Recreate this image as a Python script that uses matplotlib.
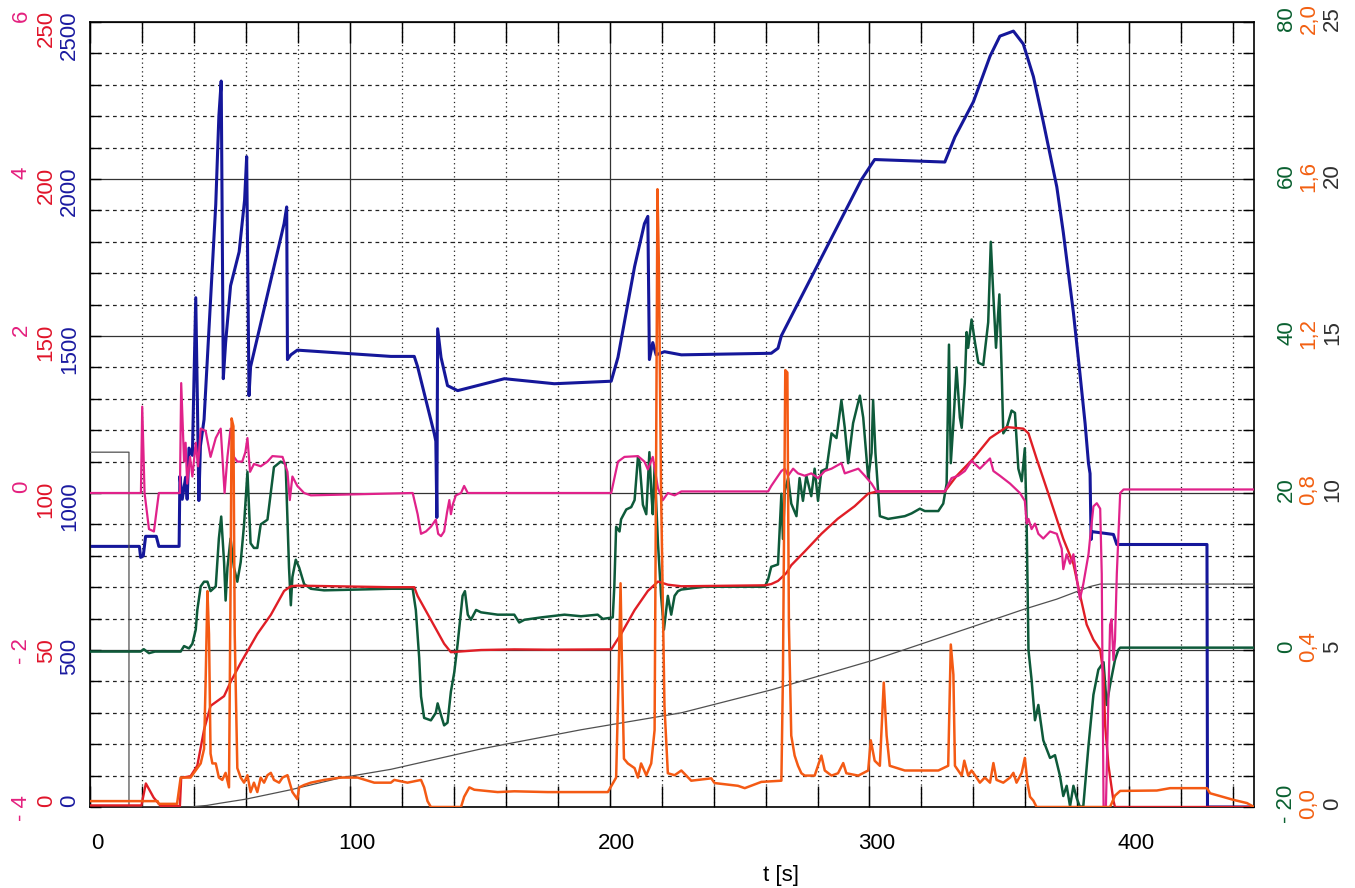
import matplotlib.pyplot as plt
import matplotlib.transforms as mtransforms
from matplotlib.ticker import MultipleLocator

plt.rcParams['font.family'] = ['Liberation Sans', 'DejaVu Sans']

# ---- data (t in s) ----
blue_t = [0, 19.0, 19.5, 20.5, 21.4, 25.5, 26.5, 34.3, 34.6, 35.5, 36.8, 37.4, 38.1, 39.4, 40.7, 41.3,
          41.9, 42.5, 43.9, 46.4, 48.4, 49.6, 50.5, 51.3, 52.2, 54.1, 57.4, 59.5, 60.3, 61.2, 61.8,
          74.7, 75.7, 76.0, 77.3, 79.8, 115.8, 124.8, 126.1, 132.5, 133.1, 133.5, 133.8, 135.1, 137.6,
          141.5, 159.5, 178.7, 200.6, 203.2, 209.6, 213.4, 214.7, 215.3, 216.6, 217.9, 221.1, 227.6,
          262.2, 264.8, 266.1, 296.9, 302.0, 329.0, 332.9, 340.0, 346.4, 350.2, 355.4, 359.2, 363.1,
          366.9, 372.1, 374.6, 378.5, 381.0, 383.0, 384.3, 384.9, 385.3, 385.6, 393.9, 395.2, 429.9,
          430.1, 448]
blue_v = [830, 830, 795, 800, 862, 862, 830, 830, 1053, 980, 1050, 980, 1143, 1120, 1622, 1310,
          976, 1150, 1234, 1615, 1919, 2200, 2312, 1364, 1479, 1660, 1768, 1933, 2071, 1310, 1402,
          1858, 1911, 1425, 1440, 1455, 1435, 1435, 1402, 1189, 1165, 922, 1523, 1432, 1342,
          1326, 1364, 1348, 1356, 1432, 1721, 1858, 1881, 1425, 1479, 1440, 1450, 1440,
          1445, 1461, 1501, 1998, 2062, 2054, 2134, 2246, 2391, 2455, 2471, 2430, 2326,
          2182, 1975, 1830, 1574, 1381, 1221, 1094, 1062, 852, 877, 868, 836, 836,
          0, 0]

mag_t = [0, 19.6, 20.1, 21.0, 22.7, 24.6, 26.5, 34.6, 35.1, 36.2, 36.8, 37.4, 38.5, 39.4, 40.7, 41.6,
         42.6, 44.5, 46.4, 48.4, 50.3, 51.8, 52.9, 54.1, 55.4, 56.7, 58.6, 59.8, 60.6, 61.6, 63.1,
         65.7, 68.3, 70.2, 74.1, 76.0, 76.9, 77.9, 79.8, 82.4, 85.0, 124.2, 126.1, 127.4, 129.3,
         131.2, 133.1, 134.0, 135.1, 136.3, 137.4, 138.3, 138.9, 139.6, 140.8, 142.8, 144.0, 145.4,
         200.6, 203.2, 205.7, 210.9, 213.4, 214.7, 216.6, 218.6, 220.5, 222.4, 225.0, 227.6, 261.0,
         262.2, 266.1, 267.4, 268.7, 270.6, 272.5, 275.1, 277.6, 280.2, 282.8, 285.4, 289.2, 290.5,
         293.1, 295.7, 298.2, 300.8, 302.7, 329.0, 331.6, 334.2, 336.7, 339.3, 342.5, 346.4, 347.7,
         350.2, 354.1, 357.9, 359.8, 360.5, 361.2, 362.4, 363.7, 365.0, 366.9, 369.5, 372.1, 374.0,
         374.6, 375.9, 377.2, 378.5, 379.8, 381.0, 382.3, 384.3, 384.9, 386.2, 387.5, 388.8, 389.4,
         390.1, 391.0, 392.6, 393.2, 393.9, 394.5, 395.2, 396.5, 397.8, 448]
mag_v = [0, 0, 1.10, 0.0, -0.46, -0.49, 0.0, 0.0, 1.40, 0.40, 0.64, 0.12, 0.46, 0.21, 0.64, 0.34,
         0.82, 0.79, 0.46, 0.70, 0.82, 0.0, 0.46, 0.82, 0.46, 0.40, 0.40, 0.52, 0.70, 0.27, 0.37,
         0.34, 0.40, 0.47, 0.46, 0.27, -0.09, 0.21, 0.09, 0.0, -0.03, 0.0, -0.27, -0.52, -0.49,
         -0.43, -0.34, -0.52, -0.55, -0.49, -0.25, -0.09, -0.27, -0.15, -0.03, 0.0, 0.09, 0.0,
         0.0, 0.40, 0.46, 0.47, 0.40, 0.30, 0.46, 0.06, -0.09, 0.0, -0.03, 0.02, 0.02,
         0.09, 0.28, 0.31, 0.22, 0.31, 0.25, 0.22, 0.25, 0.19, 0.28, 0.31, 0.38, 0.25,
         0.28, 0.31, 0.22, 0.12, 0.02, 0.02, 0.19, 0.22, 0.28, 0.41, 0.31, 0.44, 0.28,
         0.22, 0.12, 0.0, -0.10, -0.39, -0.33, -0.46, -0.39, -0.52, -0.58, -0.49, -0.52, -0.71,
         -0.97, -0.78, -0.90, -0.78, -1.10, -1.35, -1.16, -0.78, -0.58, -0.17, -0.13, -0.20, -1.03,
         -4.0, -4.0, -1.68, -1.61, -2.13, -1.87, -1.03, 0.0, 0.045, 0.045]

red_t = [0, 19.8, 21.5, 24.5, 27.2, 34.6, 35.1, 38.7, 40.0, 41.3, 43.9, 46.4, 51.6, 54.1, 58.0, 61.2,
         64.4, 69.6, 74.7, 77.3, 79.8, 115.8, 124.8, 126.1, 131.2, 136.3, 138.9, 150.5, 163.3, 176.2,
         200.6, 204.4, 209.6, 214.7, 218.6, 222.4, 227.6, 259.7, 262.2, 264.8, 268.0, 269.9, 275.1,
         281.5, 287.8, 294.3, 299.5, 303.0, 329.0, 333.5, 340.0, 346.4, 352.8, 359.2, 361.2, 364.3,
         369.5, 374.6, 378.5, 381.0, 383.6, 386.2, 388.8, 390.1, 390.7, 392.0, 393.9, 394.5, 448]
red_v = [0.5, 0.5, 7.5, 3.0, 0.3, 0.3, 9.3, 9.8, 11.5, 13.2, 24.6, 32.2, 35.3, 39.8, 45.9, 50.5,
         55.1, 61.2, 68.8, 70.3, 70.5, 70.0, 70.0, 67.2, 59.6, 52.0, 49.3, 50.0, 50.2, 50.1,
         50.2, 55.1, 62.7, 68.8, 71.8, 70.8, 70.3, 70.6, 71.0, 72.0, 74.5, 77.0, 81.4,
         87.0, 91.8, 95.8, 99.8, 100.5, 100.5, 105.4, 111.0, 117.5, 121.0, 120.5, 119.0, 111.0,
         98.2, 85.4, 77.4, 67.7, 58.1, 53.3, 50.1, 42.0, 26.0, 13.2, 2.0, 0.0, 0.0]

grn_t = [0, 19.5, 20.7, 22.7, 25.0, 34.9, 36.2, 38.1, 39.4, 40.7, 41.3, 42.6, 43.9, 45.2, 46.4, 48.4,
         49.6, 50.5, 51.6, 52.2, 52.9, 54.1, 55.4, 56.7, 58.0, 59.3, 60.6, 61.8, 63.1, 64.4, 65.7,
         68.3, 70.8, 73.4, 75.3, 76.6, 77.3, 77.9, 79.2, 80.5, 82.4, 85.0, 90.1, 115.8, 124.2, 125.4,
         126.7, 127.4, 128.6, 131.2, 133.1, 133.8, 135.1, 136.3, 137.6, 138.9, 140.2, 141.5, 143.4,
         144.3, 145.4, 146.6, 148.6, 150.5, 156.9, 163.3, 165.2, 167.2, 173.6, 182.6, 189.0, 195.4,
         197.4, 201.2, 201.8, 202.5, 203.8, 204.4, 206.4, 208.3, 209.6, 210.9, 211.5, 212.8, 214.1,
         215.3, 216.0, 216.6, 217.3, 218.6, 219.8, 220.9, 222.4, 223.7, 225.0, 226.3, 227.6, 236.5,
         249.4, 259.7, 261.0, 262.2, 264.8, 266.1, 266.7, 267.4, 268.7, 269.9, 271.9, 273.1, 274.4,
         275.7, 277.6, 278.9, 280.2, 281.5, 283.5, 285.4, 287.3, 289.2, 290.5, 291.8, 293.7, 296.3,
         297.6, 299.5, 300.8, 301.4, 302.3, 304.0, 307.2, 313.6, 316.2, 319.4, 321.3, 326.5, 328.4,
         329.7, 330.6, 331.3, 332.3, 333.5, 334.8, 335.5, 336.7, 337.4, 338.0, 339.3, 340.6, 341.9,
         343.8, 345.7, 346.7, 347.7, 348.7, 350.0, 350.9, 351.5, 352.8, 354.7, 356.0, 357.3, 358.6,
         359.8, 360.5, 361.2, 362.4, 363.7, 365.0, 366.9, 369.5, 371.4, 373.3, 374.6, 375.9, 377.2,
         378.5, 379.8, 381.0, 382.3, 384.3, 386.2, 388.1, 390.1, 391.3, 392.6, 394.5, 395.8, 396.5,
         448]
grn_v = [-0.2, -0.2, 0.1, -0.4, -0.2, -0.2, 0.5, 0.2, 0.8, 2.6, 5.1, 8.1, 8.7, 8.7, 7.5, 8.1,
         14.2, 17.0, 11.2, 6.3, 10.5, 14.2, 10.5, 8.7, 11.2, 16.0, 22.7, 13.6, 13.0, 13.0, 16.0,
         16.6, 23.3, 24.0, 23.7, 10.5, 5.7, 9.3, 11.5, 10.5, 8.4, 7.8, 7.6, 7.8, 7.8, 5.1,
         -1.0, -5.9, -8.65, -8.96, -8.0, -6.8, -8.3, -9.6, -9.26, -5.3, -2.85, 0.8, 6.9,
         7.5, 4.5, 3.85, 5.1, 4.8, 4.5, 4.5, 3.5, 3.85, 4.15, 4.5, 4.3, 4.5,
         3.96, 4.15, 8.1, 15.7, 15.1, 16.65, 17.9, 18.2, 19.1, 24.6, 24.0, 18.5, 17.3,
         25.2, 20.3, 17.3, 23.35, 13.6, 6.9, 2.6, 6.9, 4.5, 6.9, 7.5, 7.7, 8.06,
         8.06, 8.06, 9.0, 10.6, 10.9, 19.9, 14.15, 20.25, 21.9, 18.65, 17.05, 21.9, 19.0,
         22.2, 19.6, 23.1, 19.0, 22.8, 23.1, 27.6, 27.0, 31.8, 28.3, 23.8, 28.9, 32.4,
         29.6, 21.9, 25.1, 31.8, 25.1, 17.05, 16.7, 17.05, 17.4, 18.0, 17.7, 17.7, 18.65,
         21.2, 38.9, 23.8, 28.9, 36.0, 29.6, 28.3, 34.05, 40.5, 38.5, 42.1, 39.2, 36.6,
         36.3, 41.75, 52.0, 45.0, 38.5, 45.3, 35.3, 27.6, 28.3, 30.5, 30.2, 23.1, 21.5,
         25.7, 16.1, 0.0, -3.8, -8.95, -7.0, -11.5, -13.75, -13.4, -16.0, -18.6, -17.3, -19.9,
         -17.3, -18.9, -20.0, -19.9, -12.2, -5.7, -2.5, -1.55, -7.0, -4.45, -1.25, 0.04, 0.3,
         0.3]

org_t = [0, 26.0, 26.5, 33.5, 34.9, 38.7, 40.0, 41.3, 42.6, 43.9, 44.5, 45.2, 45.8, 46.4, 47.1, 48.4,
         49.6, 50.9, 52.2, 53.5, 54.1, 54.5, 55.2, 55.7, 56.7, 58.0, 59.3, 60.6, 61.8, 63.1, 64.4,
         65.7, 67.0, 68.3, 69.6, 70.8, 72.8, 74.1, 76.0, 77.9, 79.8, 80.5, 82.4, 85.0, 90.1, 96.5,
         103.0, 109.4, 115.8, 117.1, 122.2, 127.4, 128.6, 129.9, 131.2, 142.8, 144.0, 146.0, 147.9,
         156.9, 163.3, 176.2, 189.0, 199.3, 202.5, 203.4, 204.2, 204.7, 205.5, 207.0, 209.6, 210.9,
         212.1, 214.1, 216.0, 217.3, 217.9, 218.4, 218.9, 219.8, 221.1, 222.4, 225.0, 227.6, 231.4,
         239.1, 240.4, 249.4, 252.0, 258.4, 266.1, 266.7, 267.6, 268.4, 269.0, 269.9, 271.2, 272.5,
         273.8, 275.1, 278.9, 281.5, 282.8, 285.4, 287.9, 289.9, 291.1, 295.7, 299.5, 300.5, 302.0,
         304.0, 305.5, 306.6, 307.8, 313.6, 320.0, 326.5, 330.3, 331.3, 332.3, 332.9, 335.5, 336.5,
         338.0, 339.3, 340.6, 342.5, 344.4, 346.4, 347.7, 348.9, 351.5, 354.1, 355.4, 356.6, 358.6,
         359.8, 360.8, 361.8, 363.1, 364.3, 392.6, 394.5, 396.5, 410.6, 415.7, 429.9, 431.1, 440.2,
         445.3, 448]
org_v = [0.015, 0.015, 0.008, 0.008, 0.075, 0.075, 0.087, 0.099, 0.111, 0.148, 0.32, 0.55, 0.44,
         0.136, 0.111, 0.111, 0.075, 0.069, 0.087, 0.05, 0.56, 0.99, 0.97, 0.44, 0.099, 0.075,
         0.062, 0.081, 0.038, 0.062, 0.038, 0.075, 0.062, 0.081, 0.087, 0.069, 0.062, 0.075,
         0.081, 0.038, 0.02, 0.05, 0.056, 0.062, 0.069, 0.075, 0.075, 0.062, 0.062, 0.069, 0.062,
         0.069, 0.05, 0.015, 0.0, 0.0, 0.026, 0.05, 0.044, 0.038, 0.04, 0.038, 0.038, 0.038,
         0.075, 0.32, 0.57, 0.38, 0.123, 0.111, 0.099, 0.075, 0.111, 0.081, 0.111, 0.196, 0.9,
         1.574, 1.4, 0.8, 0.257, 0.086, 0.081, 0.093, 0.067, 0.073, 0.061, 0.054, 0.048, 0.064,
         0.067, 0.337, 1.113, 1.107, 0.465, 0.182, 0.131, 0.105, 0.086, 0.08, 0.08, 0.131, 0.093,
         0.08, 0.086, 0.112, 0.086, 0.08, 0.093, 0.17, 0.118, 0.105, 0.317, 0.182, 0.105, 0.093,
         0.093, 0.093, 0.105, 0.414, 0.337, 0.105, 0.08, 0.118, 0.08, 0.093, 0.081, 0.062, 0.075,
         0.062, 0.112, 0.069, 0.062, 0.075, 0.087, 0.062, 0.087, 0.125, 0.062, 0.026, 0.016, 0.0,
         0.0, 0.029, 0.041, 0.042, 0.048, 0.048, 0.035, 0.018, 0.01, 0.0]

blk_t = [0, 15.0, 15.0, 38.0, 45.0, 50.0, 60.0, 77.3, 96.5, 115.8, 150.5, 189.0, 227.6, 262.2,
         300.8, 339.3, 359.2, 372.1, 384.9, 388.8, 448]
blk_v = [11.3, 11.3, 0.0, 0.0, 0.05, 0.12, 0.25, 0.55, 0.93, 1.2, 1.85, 2.46, 3.0, 3.73,
         4.66, 5.73, 6.29, 6.62, 7.02, 7.1, 7.1]

# axis scales and tick labels
blue_ticks = [0, 500, 1000, 1500, 2000, 2500]
blue_labels = ['0', '500', '1000', '1500', '2000', '2500']
red_ticks = [0, 50, 100, 150, 200, 250]
red_labels = ['0', '50', '100', '150', '200', '250']
mag_ticks = [-4, -2, 0, 2, 4, 6]
mag_labels = ['- 4', '- 2', '0', '2', '4', '6']
grn_ticks = [-20, 0, 20, 40, 60, 80]
grn_labels = ['- 20', '0', '20', '40', '60', '80']
org_ticks = [0.0, 0.4, 0.8, 1.2, 1.6, 2.0]
org_labels = ['0,0', '0,4', '0,8', '1,2', '1,6', '2,0']
blk_ticks = [0, 5, 10, 15, 20, 25]
blk_labels = ['0', '5', '10', '15', '20', '25']
x_ticks = [0, 100, 200, 300, 400]

BLUE = '#15179a'
MAG = '#e0228a'
RED = '#e01e26'
GRN = '#0e5a3a'
ORG = '#f45a14'
BLK = '#505050'

fig = plt.figure(figsize=(13.55, 8.88), dpi=100)
ax = fig.add_axes([90 / 1355, 1 - 807 / 888, 1164 / 1355, 785 / 888])
ax.set_xlim(0, 448)
ax.set_ylim(0, 2500)


def side_axis(lim, ticks, labels, color, side, pad):
    a = ax.twinx()
    a.set_ylim(*lim)
    for s in a.spines.values():
        s.set_visible(False)
    if side == 'left':
        a.yaxis.tick_left()
    a.set_yticks(ticks, labels)
    a.tick_params(axis='y', length=0, pad=pad, labelsize=16, labelcolor=color,
                  labelrotation=90)
    return a


ax_blk = side_axis((0, 25), blk_ticks, blk_labels, '#303030', 'right', 49)
ax_grn = side_axis((-20, 80), grn_ticks, grn_labels, '#0a6030', 'right', 16)
ax_red = side_axis((0, 250), red_ticks, red_labels, '#e0142a', 'left', 24)
ax_mag = side_axis((-4, 6), mag_ticks, mag_labels, '#e4207e', 'left', 42)
ax_org = side_axis((0, 2.0), org_ticks, org_labels, '#f26012', 'right', 32)

# main (blue) axis: frame, grid, ticks
ax.xaxis.set_major_locator(MultipleLocator(100))
ax.xaxis.set_minor_locator(MultipleLocator(20))
ax.yaxis.set_major_locator(MultipleLocator(500))
ax.yaxis.set_minor_locator(MultipleLocator(100))
ax.set_xticks(x_ticks, [str(v) for v in x_ticks])
ax.set_yticks(blue_ticks, blue_labels)
ax.tick_params(axis='x', which='both', direction='in', top=True, bottom=True, length=15,
               width=1, pad=19, labelsize=16)
ax.tick_params(axis='y', which='both', direction='in', left=True, right=True, length=8,
               width=1, pad=7, labelsize=16, labelcolor='#1a1aa0', labelrotation=90)
ax.xaxis.grid(True, which='major', color='#333333', lw=0.9, ls='-')
ax.xaxis.grid(True, which='minor', color='#222222', lw=0.9, ls=(0, (1, 2.5)))
ax.yaxis.grid(True, which='major', color='#333333', lw=0.9, ls='-')
ax.yaxis.grid(True, which='minor', color='#222222', lw=0.9, ls=(0, (3, 3)))
for s in ax.spines.values():
    s.set_linewidth(1.2)

ax.set_xlabel('t [s]', fontsize=16)
ax.xaxis.set_label_coords(0.594, -0.074)

# curves
ax.plot(blue_t, blue_v, color=BLUE, lw=2.2)
ax_blk.plot(blk_t, blk_v, color=BLK, lw=0.9)
ax_grn.plot(grn_t, grn_v, color=GRN, lw=1.8)
ax_red.plot(red_t, red_v, color=RED, lw=1.7)
ax_mag.plot(mag_t, mag_v, color=MAG, lw=1.6)
ax_org.plot(org_t, org_v, color=ORG, lw=1.8)

# label placement like the original recorder print
up = mtransforms.ScaledTranslation(0, 0.12, fig.dpi_scale_trans)
for a in (ax, ax_red, ax_mag):
    for lab in a.get_yticklabels():
        lab.set_verticalalignment('top')
        lab.set_transform(lab.get_transform() + up)
lift = mtransforms.ScaledTranslation(0, 0.03, fig.dpi_scale_trans)
for a in (ax_grn, ax_org, ax_blk):
    for lab in a.get_yticklabels():
        lab.set_verticalalignment('center')
        lab.set_transform(lab.get_transform() + lift)
right = mtransforms.ScaledTranslation(0.07, 0, fig.dpi_scale_trans)
for lab in ax.get_xticklabels():
    lab.set_transform(lab.get_transform() + right)

fig.savefig('out.png', dpi=100)
